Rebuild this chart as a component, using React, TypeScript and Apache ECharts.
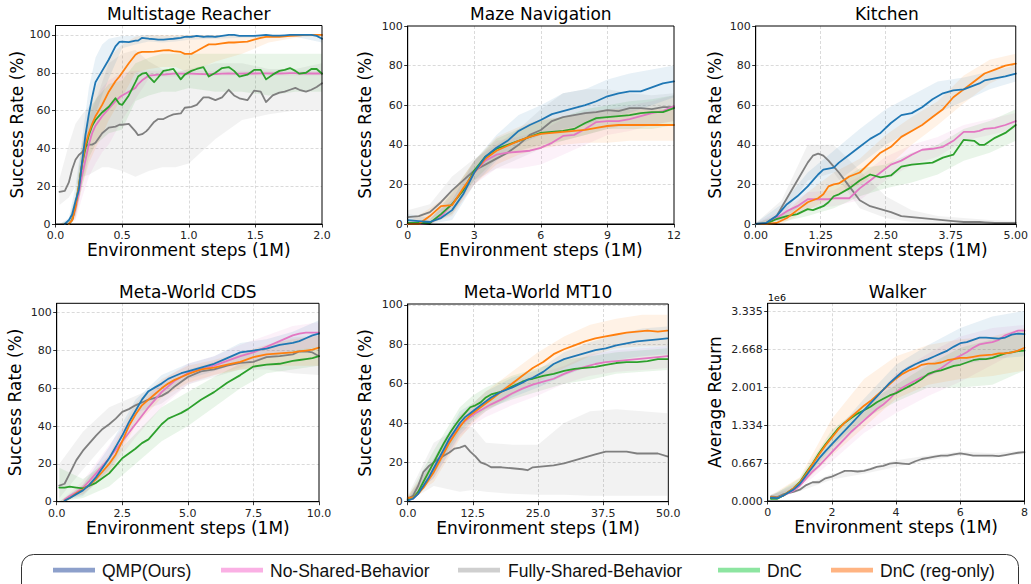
import React, { useEffect, useRef } from "react";
import * as echarts from "echarts";

// ---------- shared ----------
const SERIES_NAMES = ["QMP(Ours)", "No-Shared-Behavior", "Fully-Shared-Behavior", "DnC", "DnC (reg-only)"];
const LINE_COLORS = ["#1f77b4", "#e377c2", "#7f7f7f", "#2ca02c", "#ff7f0e"];
const LEGEND_COLORS = ["#8da0cb", "#fab0e4", "#cfcfcf", "#8de5a1", "#ffb482"];
const DRAW_ORDER = [2, 1, 3, 4, 0];

// ---------- Multistage Reacher ----------
const reacherX = [0.03, 0.07, 0.1, 0.125, 0.15, 0.175, 0.2, 0.225, 0.25, 0.275, 0.3, 0.35, 0.4, 0.45, 0.48, 0.5, 0.55, 0.6, 0.62, 0.65, 0.68, 0.7, 0.74, 0.77, 0.81, 0.85, 0.885, 0.94, 0.97, 1.02, 1.06, 1.11, 1.15, 1.2, 1.25, 1.3, 1.34, 1.38, 1.44, 1.49, 1.54, 1.58, 1.63, 1.68, 1.72, 1.76, 1.8, 1.83, 1.88, 1.92, 1.96, 2.0];
const reacherQMP = [null, 0, 2, 5, 12, 18, 33, 47, 58, 67, 75, 81, 87, 94, 96.3, 96.5, 96.2, 97, 97, 98.5, 98.2, 98, 97.8, 97.5, 97.5, 97.8, 98, 98.5, 99, 99, 99.5, 99, 99.2, 99, 99.5, 100, 100, 99.5, 99.5, 99.5, 99.8, 100, 99.6, 99.6, 99.8, 100, 100, 100, 100, 100, 99.5, 98];
const reacherNSB = [null, null, 0, 2, 8, 16, 26, 34, 42, 48, 52, 57, 61, 65, 67, 68, 70, 72, 74, 76, 77.5, 78.5, 78.8, 79, 79, 79.3, 79.5, 79.5, 79.5, 79.5, 79.4, 79.3, 79.2, 79.3, 79.5, 79.6, 79.5, 79.5, 79.6, 79.6, 79.7, 79.7, 79.6, 79.6, 79.7, 79.8, 79.8, 79.6, 79.6, 79.7, 79.6, 79.6];
const reacherFSB = [17, 17.5, 22, 29, 34, 36.5, 38, 41, 42, 42, 43, 48, 51, 51.5, 52.5, 52.5, 53, 49, 47, 47.5, 49, 50.5, 54, 55.5, 55.5, 57, 58, 58.5, 61.5, 62, 63, 67, 67, 65.5, 67, 71, 68, 66.5, 65.5, 70.5, 70, 64.5, 68, 69.5, 70, 71, 72, 71, 70, 71, 72.5, 74.5];
const reacherDNC = [null, null, 0, 2, 10, 20, 32, 40, 47, 52, 55, 59, 62, 66.5, 63.5, 63, 68, 75, 78, 79.5, 80, 78, 75, 77.5, 81, 81.5, 82, 76.5, 79, 81, 82, 83, 78, 80, 82.5, 83, 81, 78, 79, 81.5, 81.5, 76.5, 79, 81, 81.5, 82.5, 81, 79.5, 80, 82, 82, 79.5];
const reacherREG = [null, null, 0, 2, 9, 20, 32, 42, 48, 53, 57, 63, 70, 75.5, 78, 80, 85, 89.5, 90.5, 91, 91, 91, 91.2, 91.5, 91.8, 92, 91.5, 91, 90, 90, 91.5, 93.5, 95, 95, 95.5, 96, 96, 96.2, 96.5, 97.5, 98.5, 99, 99, 99, 99.3, 99.5, 99.7, 99.8, 100, 100, 100, 100];
const reacherBandX = [0.03, 0.1, 0.15, 0.2, 0.25, 0.3, 0.35, 0.4, 0.5, 0.6, 0.7, 0.8, 0.9, 1.0, 1.2, 1.4, 1.6, 1.8, 2.0];
const reacherQMPLo = [0, 0, 5, 22, 40, 58, 68, 77, 93, 95, 96.5, 96, 96.5, 97.5, 98, 98.5, 98.5, 99, 96];
const reacherQMPHi = [0, 3, 20, 45, 72, 88, 95, 98, 99.5, 99.5, 100, 99.5, 99.5, 100, 100, 100, 100, 100, 100];
const reacherNSBLo = [0, 0, 2, 14, 25, 32, 38, 42, 55, 66, 77, 78, 78, 78.5, 78.5, 78.5, 78.5, 78.5, 78.5];
const reacherNSBHi = [0, 1, 12, 35, 55, 65, 72, 76, 80, 81, 81, 81, 81, 81, 81, 81, 81, 81, 81];
const reacherFSBLo = [10, 14, 20, 25, 26, 28, 30, 30, 28, 25, 28, 30, 30, 32, 45, 55, 58, 60, 60];
const reacherFSBHi = [24, 42, 53, 58, 62, 65, 75, 85, 90, 92, 86, 82, 80, 82, 85, 85, 82, 82, 85];
const reacherDNCLo = [0, 0, 4, 20, 35, 42, 45, 48, 50, 65, 68, 70, 70, 72, 70, 70, 68, 70, 70];
const reacherDNCHi = [0, 2, 15, 42, 58, 66, 70, 74, 76, 85, 88, 90, 90, 90, 90, 90, 90, 90, 90];
const reacherREGLo = [0, 0, 3, 20, 32, 40, 47, 55, 67, 80, 82, 83, 83, 80, 86, 90, 96, 98.5, 99.5];
const reacherREGHi = [0, 2, 15, 42, 60, 72, 80, 88, 95, 99, 100, 100, 100, 100, 100, 100, 100, 100, 100];

// ---------- Maze Navigation ----------
const mazeX = [0, 0.5, 1, 1.5, 2, 2.5, 3, 3.5, 4, 4.5, 5, 5.5, 6, 6.5, 7, 7.5, 8, 8.5, 9, 9.5, 10, 10.5, 11, 11.5, 12];
const mazeQMP = [2, 1.5, 1, 3, 7, 15, 26, 34, 38.5, 42, 47, 50, 52.5, 55.5, 57, 58.5, 60, 62, 64.5, 66, 67, 67, 69, 71, 72];
const mazeNSB = [0, 0, 0.5, 4, 10, 17, 26, 32, 35, 36, 36.5, 37, 38.5, 41, 44.5, 45, 48, 51.5, 52, 52, 53, 54.5, 56, 57, 59.5];
const mazeFSB = [3.5, 4, 6, 11, 17, 22, 27, 30, 33, 36, 40, 45, 47.5, 52, 54, 55, 56, 56.5, 57.5, 57, 58.5, 58.5, 58, 59, 59];
const mazeDNC = [0.5, 0.5, 0.5, 5, 10, 17, 27, 34, 38, 40, 42, 44, 46, 46.5, 47, 48, 51, 53.5, 54, 54.5, 55, 56, 56.5, 56.5, 58.5];
const mazeREG = [0, 0, 4, 9, 9.5, 18, 26, 33, 37, 39.5, 42, 44, 45.5, 46, 46.5, 47, 47.5, 48.5, 49.5, 50, 50, 50, 50, 50, 50];
const mazeBandX = [0, 1, 2, 3, 4, 5, 6, 7, 8, 9, 10, 11, 12];
const mazeQMPLo = [0, 0, 2, 20, 32, 40, 45, 48, 50, 54, 56, 60, 64];
const mazeQMPHi = [5, 3, 12, 32, 45, 55, 60, 66, 68, 73, 76, 78, 80];
const mazeNSBLo = [0, 0, 5, 20, 28, 28, 30, 35, 40, 45, 47, 50, 52];
const mazeNSBHi = [1, 2, 15, 32, 42, 44, 47, 53, 57, 58, 60, 62, 65];
const mazeFSBLo = [0, 2, 10, 22, 28, 33, 38, 42, 45, 48, 50, 50, 52];
const mazeFSBHi = [7, 10, 24, 33, 40, 48, 58, 66, 68, 68, 66, 65, 66];
const mazeDNCLo = [0, 0, 5, 22, 33, 37, 40, 42, 45, 48, 48, 48, 50];
const mazeDNCHi = [1, 2, 16, 32, 43, 48, 52, 54, 58, 60, 62, 63, 65];
const mazeREGLo = [0, 0, 4, 20, 30, 35, 38, 40, 41, 41, 42, 42, 42];
const mazeREGHi = [1, 8, 16, 32, 44, 49, 53, 54, 56, 58, 58, 58, 58];

// ---------- Kitchen ----------
const kitchenX = [0, 0.2, 0.4, 0.6, 0.8, 1.0, 1.1, 1.2, 1.3, 1.4, 1.5, 1.6, 1.8, 2.0, 2.2, 2.4, 2.6, 2.8, 3.0, 3.2, 3.4, 3.6, 3.8, 4.0, 4.2, 4.3, 4.4, 4.6, 4.8, 5.0];
const kitchenQMP = [0, 0.5, 4, 10, 14, 19, 22, 25, 27.5, 28, 28.5, 31, 35, 39, 43, 46, 51, 55, 56, 59, 63, 66, 67.5, 68, 70, 71, 72.5, 73.5, 74.5, 76];
const kitchenNSB = [0, 0, 3, 6.5, 9, 12.5, 12.5, 12.5, 12.5, 12.5, 13, 13, 13, 18, 22, 26, 30, 32, 35, 37.5, 38, 39, 42, 46.5, 46.5, 47, 48, 48.5, 50, 52];
const kitchenFSB = [0, 0.5, 4, 13, 22, 31, 34.5, 35.5, 34.5, 32, 29, 26, 19, 12, 9, 7.5, 6, 4, 3.5, 3, 2.5, 2, 1.5, 1, 1, 1, 0.8, 0.5, 0.5, 0.5];
const kitchenDNC = [0, 0, 2.5, 4, 5, 7.5, 7, 8, 9, 11, 14, 15, 18, 22, 25, 23.5, 24.5, 29, 30, 30.5, 31, 33.5, 35, 42.5, 42, 40, 40, 43.5, 46, 50];
const kitchenREG = [0, 0, 0.5, 3, 7, 11, 12, 13, 15, 19, 20, 20.5, 24, 26, 31, 36, 39, 44, 47, 50, 54, 58, 64, 68, 72, 74, 76, 78, 80, 81];
const kitchenBandX = [0, 0.5, 1.0, 1.5, 2.0, 2.5, 3.0, 3.5, 4.0, 4.5, 5.0];
const kitchenQMPLo = [0, 2, 12, 20, 30, 40, 47, 56, 62, 68, 72];
const kitchenQMPHi = [0.5, 10, 26, 37, 48, 58, 65, 72, 74, 77, 80];
const kitchenNSBLo = [0, 2, 8, 9, 12, 22, 30, 34, 42, 45, 48];
const kitchenNSBHi = [0.5, 7, 16, 17, 24, 34, 40, 44, 50, 53, 56];
const kitchenFSBLo = [0, 3, 22, 26, 8, 3, 1, 0.5, 0, 0, 0];
const kitchenFSBHi = [0.5, 12, 40, 40, 27, 14, 7, 4, 3, 2, 1.5];
const kitchenDNCLo = [0, 1, 4, 8, 14, 18, 21, 25, 32, 36, 42];
const kitchenDNCHi = [0.5, 5, 12, 20, 28, 30, 36, 40, 48, 52, 58];
const kitchenREGLo = [0, 0, 7, 14, 20, 28, 40, 50, 61, 71, 77];
const kitchenREGHi = [0.5, 4, 16, 26, 33, 45, 54, 62, 75, 83, 86];

// ---------- Meta-World CDS ----------
const cdsX = [0.1, 0.3, 0.5, 0.75, 1.0, 1.25, 1.5, 1.75, 2.0, 2.25, 2.5, 2.75, 3.0, 3.25, 3.5, 3.75, 4.0, 4.25, 4.5, 4.75, 5.0, 5.5, 6.0, 6.5, 7.0, 7.5, 8.0, 8.5, 9.0, 9.25, 9.5, 9.75, 10.0];
const cdsQMP = [null, 0.5, 2, 4, 6, 9, 13, 18, 23, 29, 35, 42, 48, 54, 58.5, 60.5, 62.5, 65, 66.5, 68, 69, 71, 73, 76, 79, 80, 81, 83, 84, 85, 86.5, 88, 89];
const cdsNSB = [null, 1, 3, 5, 7.5, 11, 15, 19, 23, 27.5, 32, 36.5, 41, 45.5, 50, 54, 58, 61, 64, 66, 68, 70, 72, 74.5, 77, 79, 82, 85, 88, 89, 89.5, 89.5, 89.5];
const cdsFSB = [8.5, 9.5, 15, 22, 27, 31, 35, 38.5, 41, 44, 47.5, 49, 51, 52.5, 54, 55, 56, 58, 61, 63.5, 66, 69, 70, 72, 73.5, 74, 76.5, 77, 78, 79.5, 79.5, 79, 77];
const cdsDNC = [7.5, 7.5, 8, 7.5, 7, 8.5, 10, 12.5, 15, 19, 23, 25.5, 28, 31, 33, 37, 41, 44, 45.5, 47, 49, 54, 58, 63, 67, 71.5, 72.5, 73, 74.5, 75, 75.5, 76, 77];
const cdsREG = [null, 0.5, 2, 4.5, 6.5, 9, 12, 16, 20, 25, 32, 40, 46, 51, 54, 57, 60, 62.5, 64.5, 66, 67.5, 70, 71, 72.5, 74, 76.5, 78, 78.5, 79, 79.5, 80, 80.5, 81.5];
const cdsBandX = [0.1, 1, 2, 3, 4, 5, 6, 7, 8, 9, 10];
const cdsQMPLo = [0, 3, 17, 42, 57, 65, 69, 74, 76, 79, 82];
const cdsQMPHi = [0, 9, 29, 54, 67, 73, 77, 84, 86, 90, 96];
const cdsNSBLo = [0, 4, 16, 34, 50, 62, 67, 71, 76, 80, 82];
const cdsNSBHi = [0, 11, 30, 48, 64, 73, 77, 83, 88, 93, 95];
const cdsFSBLo = [2, 17, 33, 47, 52, 62, 66, 70, 70, 68, 67];
const cdsFSBHi = [20, 37, 50, 56, 62, 70, 74, 78, 82, 87, 88];
const cdsDNCLo = [0, 2, 8, 20, 32, 40, 50, 60, 68, 70, 72];
const cdsDNCHi = [18, 12, 22, 36, 50, 58, 66, 73, 77, 80, 82];
const cdsREGLo = [0, 4, 15, 40, 55, 63, 67, 70, 72, 72, 72];
const cdsREGHi = [0, 9, 25, 52, 65, 72, 75, 79, 83, 86, 88];

// ---------- Meta-World MT10 ----------
const mt10X = [0, 1, 2, 3, 4, 5, 6, 7, 8, 9, 10, 11, 12, 13, 14, 15, 16, 18, 20, 22, 23, 24, 26, 28, 30, 32, 34, 36, 38, 40, 42, 44, 46, 48, 49.8];
const mt10QMP = [0.5, 1.5, 4, 8, 12, 17, 22, 27, 32, 36, 40, 43, 45, 47, 49, 51, 53, 56, 58, 60.5, 62, 63, 66, 70, 72.5, 74, 75.5, 77, 78, 79.5, 80.5, 81.5, 82, 82.5, 83];
const mt10NSB = [1, 1.5, 4, 8, 12, 17, 21, 26, 31, 35, 38.5, 41, 43, 45, 46.5, 48, 49.5, 52, 55, 57.5, 58.5, 59.5, 61, 62.5, 65, 67, 68.5, 70, 71, 71.5, 72, 72.5, 73, 73.5, 74];
const mt10FSB = [1.5, 3, 8, 15, 18, 20, 22, 23.5, 25, 27, 27.5, 28.5, 25.5, 23, 20, 19, 17.5, 17.5, 17, 16.5, 16, 17.5, 18, 18.5, 19.5, 21, 22.5, 24, 25.5, 25.5, 25.5, 24.5, 24.5, 24.5, 23];
const mt10DNC = [1, 2, 5, 10, 15, 20, 25, 30, 34.5, 38.5, 42, 45, 48, 49, 50.5, 53, 54.5, 56, 58.5, 61, 62, 62.5, 64, 65, 66.5, 67.5, 68, 68.5, 69.5, 70.5, 71, 71, 71.5, 72.5, 72.5];
const mt10REG = [2, 2, 4, 7, 11, 15, 20, 25, 30, 34, 38, 41.5, 44, 46, 48, 50, 52, 56, 60, 64, 66, 68, 71, 75, 77.5, 79.5, 81.5, 83, 84, 85, 86, 86.5, 87, 86.5, 87];
const mt10BandX = [0, 5, 10, 12.5, 15, 20, 25, 30, 35, 40, 45, 49.8];
const mt10QMPLo = [0, 12, 34, 41, 46, 53, 58, 64, 69, 72, 74, 75];
const mt10QMPHi = [1, 22, 46, 50, 56, 63, 67, 76, 81, 85, 88, 89];
const mt10NSBLo = [0, 12, 33, 39, 43, 49, 54, 60, 64, 66, 67, 68];
const mt10NSBHi = [2, 22, 44, 48, 52, 61, 65, 69, 75, 77, 78, 79];
const mt10FSBLo = [0, 8, 5, 6, 5, 4, 3.5, 3.5, 3, 3, 3, 3];
const mt10FSBHi = [3, 30, 38, 38, 30, 29, 29, 40, 46, 47, 46, 45];
const mt10DNCLo = [0, 14, 36, 42, 47, 52, 56, 60, 62, 65, 66, 67];
const mt10DNCHi = [2, 26, 48, 54, 58, 64, 68, 72, 74, 76, 77, 78];
const mt10REGLo = [1, 10, 32, 40, 46, 54, 61, 68, 74, 78, 79, 79];
const mt10REGHi = [3, 20, 44, 50, 56, 66, 76, 84, 90, 93, 95, 95];

// ---------- Walker (values in 1e6) ----------
const walkerX = [0.1, 0.3, 0.5, 0.8, 1.0, 1.2, 1.4, 1.6, 1.8, 2.0, 2.2, 2.4, 2.6, 2.8, 3.0, 3.2, 3.4, 3.6, 3.8, 4.0, 4.2, 4.4, 4.6, 4.8, 5.0, 5.2, 5.4, 5.6, 5.8, 6.0, 6.2, 6.4, 6.6, 6.8, 7.0, 7.2, 7.4, 7.6, 7.8, 8.0];
const walkerQMP = [0.06, 0.05, 0.1, 0.2, 0.3, 0.45, 0.6, 0.75, 0.88, 1.0, 1.12, 1.24, 1.36, 1.48, 1.6, 1.72, 1.84, 1.96, 2.08, 2.18, 2.28, 2.35, 2.41, 2.46, 2.5, 2.55, 2.6, 2.65, 2.72, 2.78, 2.8, 2.84, 2.88, 2.88, 2.87, 2.86, 2.88, 2.93, 2.95, 2.94];
const walkerNSB = [0.05, 0.05, 0.1, 0.18, 0.27, 0.4, 0.52, 0.62, 0.74, 0.86, 0.98, 1.1, 1.22, 1.32, 1.42, 1.52, 1.62, 1.7, 1.8, 1.92, 2.0, 2.06, 2.12, 2.18, 2.22, 2.28, 2.34, 2.42, 2.5, 2.56, 2.62, 2.7, 2.76, 2.78, 2.8, 2.84, 2.92, 2.96, 3.0, 3.0];
const walkerFSB = [0.08, 0.07, 0.12, 0.16, 0.2, 0.28, 0.33, 0.33, 0.4, 0.43, 0.48, 0.53, 0.53, 0.52, 0.53, 0.56, 0.6, 0.62, 0.66, 0.67, 0.66, 0.65, 0.7, 0.74, 0.76, 0.78, 0.8, 0.8, 0.82, 0.84, 0.82, 0.8, 0.8, 0.8, 0.8, 0.79, 0.81, 0.83, 0.85, 0.86];
const walkerDNC = [0.04, 0.04, 0.1, 0.22, 0.33, 0.5, 0.66, 0.84, 1.0, 1.14, 1.28, 1.38, 1.46, 1.54, 1.6, 1.66, 1.74, 1.8, 1.86, 1.9, 1.96, 2.02, 2.08, 2.15, 2.24, 2.28, 2.3, 2.34, 2.38, 2.4, 2.44, 2.48, 2.5, 2.5, 2.52, 2.56, 2.6, 2.62, 2.64, 2.65];
const walkerREG = [0.07, 0.06, 0.1, 0.22, 0.32, 0.48, 0.65, 0.82, 0.98, 1.12, 1.26, 1.38, 1.48, 1.58, 1.68, 1.76, 1.86, 1.96, 2.06, 2.16, 2.24, 2.3, 2.34, 2.4, 2.42, 2.42, 2.44, 2.48, 2.5, 2.52, 2.52, 2.54, 2.56, 2.57, 2.58, 2.6, 2.6, 2.62, 2.65, 2.7];
const walkerBandX = [0.1, 1, 2, 3, 4, 5, 6, 7, 8];
const walkerQMPLo = [0.02, 0.25, 0.85, 1.4, 1.95, 2.2, 2.4, 2.5, 2.55];
const walkerQMPHi = [0.1, 0.35, 1.15, 1.8, 2.4, 2.75, 3.05, 3.25, 3.35];
const walkerNSBLo = [0.02, 0.22, 0.7, 1.2, 1.55, 1.85, 2.1, 2.4, 2.7];
const walkerNSBHi = [0.08, 0.33, 0.98, 1.6, 2.25, 2.6, 2.9, 3.05, 3.1];
const walkerFSBLo = [0.03, 0.17, 0.38, 0.48, 0.6, 0.72, 0.8, 0.76, 0.83];
const walkerFSBHi = [0.12, 0.24, 0.48, 0.56, 0.72, 0.8, 0.87, 0.84, 0.89];
const walkerDNCLo = [0.02, 0.27, 0.95, 1.45, 1.75, 2.0, 2.0, 2.05, 2.3];
const walkerDNCHi = [0.08, 0.4, 1.25, 1.7, 2.05, 2.4, 2.7, 2.85, 3.0];
const walkerREGLo = [0.03, 0.25, 0.8, 1.3, 1.8, 2.05, 2.15, 2.2, 2.3];
const walkerREGHi = [0.1, 0.42, 1.45, 2.15, 2.55, 2.75, 2.85, 2.9, 3.05];

// ---------- legend layout ----------
const LEGEND_SWATCH_X = [53, 221, 458, 718, 831];
const LEGEND_TEXT_X = [102, 270, 508, 767, 880];

const FONT = "DejaVu Sans";

const PLOTS = [
  {
    title: "Multistage Reacher", grid: [55.5, 25.5, 266.5, 198.5], titleTop: 5,
    xMax: 2, xInterval: 0.5, xDec: 1, yMax: 105, yInterval: 20, yDec: 0, showMaxY: false,
    yName: "Success Rate (%)", yGap: 30,
    x: reacherX, lines: [reacherQMP, reacherNSB, reacherFSB, reacherDNC, reacherREG],
    bandX: reacherBandX,
    lo: [reacherQMPLo, reacherNSBLo, reacherFSBLo, reacherDNCLo, reacherREGLo],
    hi: [reacherQMPHi, reacherNSBHi, reacherFSBHi, reacherDNCHi, reacherREGHi],
  },
  {
    title: "Maze Navigation", grid: [407.7, 26, 266.3, 198], titleTop: 5,
    xMax: 12, xInterval: 3, xDec: 0, yMax: 100, yInterval: 20, yDec: 0, showMaxY: true,
    yName: "Success Rate (%)", yGap: 34,
    x: mazeX, lines: [mazeQMP, mazeNSB, mazeFSB, mazeDNC, mazeREG],
    bandX: mazeBandX,
    lo: [mazeQMPLo, mazeNSBLo, mazeFSBLo, mazeDNCLo, mazeREGLo],
    hi: [mazeQMPHi, mazeNSBHi, mazeFSBHi, mazeDNCHi, mazeREGHi],
  },
  {
    title: "Kitchen", grid: [755.7, 26, 262.3, 198], titleTop: 5,
    xMax: 5, xInterval: 1.25, xDec: 2, yMax: 100, yInterval: 20, yDec: 0, showMaxY: true,
    yName: "Success Rate (%)", yGap: 32,
    x: kitchenX, lines: [kitchenQMP, kitchenNSB, kitchenFSB, kitchenDNC, kitchenREG],
    bandX: kitchenBandX,
    lo: [kitchenQMPLo, kitchenNSBLo, kitchenFSBLo, kitchenDNCLo, kitchenREGLo],
    hi: [kitchenQMPHi, kitchenNSBHi, kitchenFSBHi, kitchenDNCHi, kitchenREGHi],
  },
  {
    title: "Meta-World CDS", grid: [56.7, 303.3, 262.3, 198.4], titleTop: 283,
    xMax: 10, xInterval: 2.5, xDec: 1, yMax: 105, yInterval: 20, yDec: 0, showMaxY: false,
    yName: "Success Rate (%)", yGap: 33,
    x: cdsX, lines: [cdsQMP, cdsNSB, cdsFSB, cdsDNC, cdsREG],
    bandX: cdsBandX,
    lo: [cdsQMPLo, cdsNSBLo, cdsFSBLo, cdsDNCLo, cdsREGLo],
    hi: [cdsQMPHi, cdsNSBHi, cdsFSBHi, cdsDNCHi, cdsREGHi],
  },
  {
    title: "Meta-World MT10", grid: [407.7, 304, 260.6, 197.7], titleTop: 283,
    xMax: 50, xInterval: 12.5, xDec: 1, yMax: 100.5, yInterval: 20, yDec: 0, showMaxY: false,
    yName: "Success Rate (%)", yGap: 34,
    x: mt10X, lines: [mt10QMP, mt10NSB, mt10FSB, mt10DNC, mt10REG],
    bandX: mt10BandX,
    lo: [mt10QMPLo, mt10NSBLo, mt10FSBLo, mt10DNCLo, mt10REGLo],
    hi: [mt10QMPHi, mt10NSBHi, mt10FSBHi, mt10DNCHi, mt10REGHi],
  },
  {
    title: "Walker", grid: [767.7, 303.3, 259.6, 197.7], titleTop: 283,
    xMax: 8, xInterval: 2, xDec: 0, yMax: 3.483, yInterval: 0.667, yDec: 3, showMaxY: false,
    yName: "Average Return", yGap: 44,
    x: walkerX, lines: [walkerQMP, walkerNSB, walkerFSB, walkerDNC, walkerREG],
    bandX: walkerBandX,
    lo: [walkerQMPLo, walkerNSBLo, walkerFSBLo, walkerDNCLo, walkerREGLo],
    hi: [walkerQMPHi, walkerNSBHi, walkerFSBHi, walkerDNCHi, walkerREGHi],
  },
];

function buildOption() {
  const grids: any[] = [];
  const xAxes: any[] = [];
  const yAxes: any[] = [];
  const series: any[] = [];
  const graphic: any[] = [];

  PLOTS.forEach((p, gi) => {
    const [gl, gt, gw, gh] = p.grid;
    grids.push({
      left: gl, top: gt, width: gw, height: gh, show: true,
      borderColor: "#000", borderWidth: 1, backgroundColor: "transparent", z: 10,
    });
    graphic.push({
      type: "text", x: gl + gw / 2, y: p.titleTop,
      style: {
        text: p.title, fontFamily: FONT, fontSize: 17, fontWeight: "normal", fill: "#000",
        align: "center", verticalAlign: "top",
      },
    });
    const common = {
      gridIndex: gi,
      nameLocation: "middle",
      nameTextStyle: { fontFamily: FONT, fontSize: 17, color: "#000" },
      axisLine: { show: true, lineStyle: { color: "#000", width: 1 } },
      axisTick: { show: true, length: 3.5, lineStyle: { color: "#000", width: 0.8 } },
      splitLine: {
        show: true, showMinLine: false, showMaxLine: false,
        lineStyle: { color: "#d0d0d0", type: [3, 2], width: 0.8 },
      },
    };
    xAxes.push({
      ...common, type: "value", min: 0, max: p.xMax, interval: p.xInterval,
      name: "Environment steps (1M)", nameGap: 15,
      axisLabel: {
        margin: 6, fontFamily: FONT, fontSize: 11, color: "#222",
        formatter: (v: number) => v.toFixed(p.xDec),
      },
    });
    yAxes.push({
      ...common, type: "value", min: 0, max: p.yMax, interval: p.yInterval,
      name: p.yName, nameGap: p.yGap,
      axisLabel: {
        margin: 5, fontFamily: FONT, fontSize: 11, color: "#222", showMaxLabel: p.showMaxY,
        formatter: (v: number) => v.toFixed(p.yDec),
      },
    });

    // shaded bands (min/max over seeds)
    DRAW_ORDER.forEach((k) => {
      const bx = p.bandX, lo = p.lo[k], hi = p.hi[k], color = LINE_COLORS[k];
      series.push({
        type: "custom",
        name: SERIES_NAMES[k] + " band",
        xAxisIndex: gi, yAxisIndex: gi,
        z: 1, silent: true, clip: true,
        data: bx.map((x, i) => [x, lo[i], hi[i]]),
        encode: { x: 0, y: [1, 2] },
        renderItem: (params: any, api: any) => {
          if (params.dataIndex !== 0) return null;
          const pts: number[][] = [];
          for (let i = 0; i < bx.length; i++) pts.push(api.coord([bx[i], hi[i]]));
          for (let i = bx.length - 1; i >= 0; i--) pts.push(api.coord([bx[i], lo[i]]));
          return { type: "polygon", shape: { points: pts }, style: { fill: color, opacity: 0.1 } };
        },
      });
    });
    // mean lines
    DRAW_ORDER.forEach((k) => {
      const ys = p.lines[k];
      const data: number[][] = [];
      p.x.forEach((x, i) => {
        if (ys[i] !== null && ys[i] !== undefined) data.push([x, ys[i] as number]);
      });
      series.push({
        type: "line", name: SERIES_NAMES[k], xAxisIndex: gi, yAxisIndex: gi,
        data, showSymbol: false, symbol: "none", z: 3, clip: true,
        lineStyle: { color: LINE_COLORS[k], width: 1.8, join: "round", cap: "round" },
        itemStyle: { color: LINE_COLORS[k] },
      });
    });
  });

  graphic.push({
    type: "text", x: 768, y: 297,
    style: { text: "1e6", fontFamily: FONT, fontSize: 9.5, fill: "#000", verticalAlign: "middle" },
  });
  graphic.push({
    type: "rect", shape: { x: 21.5, y: 554.5, width: 997, height: 46, r: 12 },
    style: { fill: "none", stroke: "#333", lineWidth: 1 },
  });
  SERIES_NAMES.forEach((n, i) => {
    graphic.push({
      type: "rect", shape: { x: LEGEND_SWATCH_X[i], y: 567.8, width: 42, height: 4.6 },
      style: { fill: LEGEND_COLORS[i] },
    });
    graphic.push({
      type: "text", x: LEGEND_TEXT_X[i], y: 571,
      style: {
        text: n, fontFamily: "Liberation Sans", fontSize: 17.5, fill: "#111",
        verticalAlign: "middle", align: "left",
      },
    });
  });

  return {
    animation: false,
    backgroundColor: "#fff",
    grid: grids,
    xAxis: xAxes,
    yAxis: yAxes,
    series,
    graphic,
  };
}

export default function App() {
  const ref = useRef<HTMLDivElement>(null);
  useEffect(() => {
    if (!ref.current) return;
    const chart = echarts.init(ref.current, undefined, { renderer: "svg" });
    chart.setOption(buildOption() as any);
    return () => chart.dispose();
  }, []);
  return (
    <div
      ref={ref}
      style={{ position: "absolute", left: 0, top: 0, width: 1031, height: 584 }}
    />
  );
}
